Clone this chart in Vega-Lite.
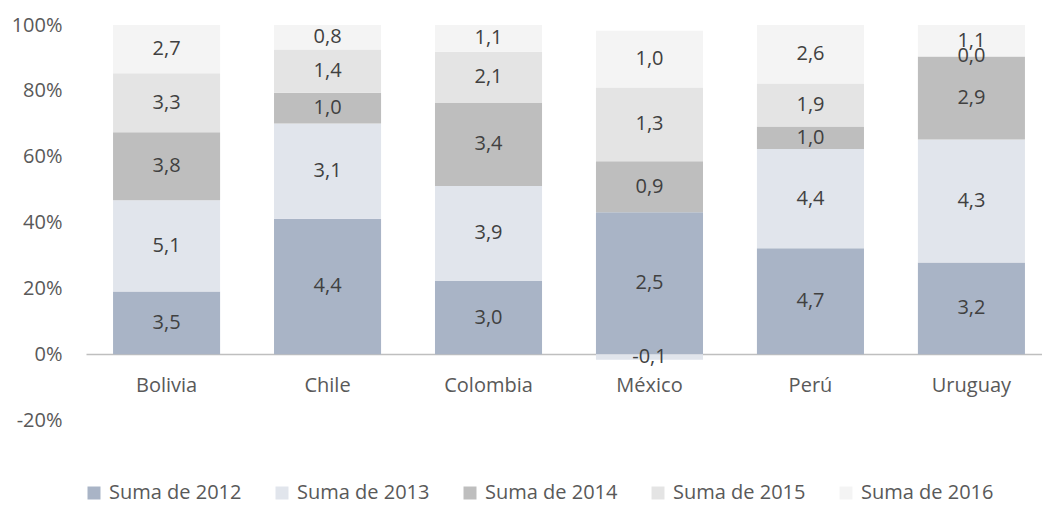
{
  "$schema": "https://vega.github.io/schema/vega-lite/v6.json",
  "width": 966,
  "height": 395,
  "autosize": {"type": "none"},
  "padding": {"left": 86, "top": 25, "right": 0, "bottom": 85},
  "background": "white",
  "config": {"view": {"stroke": null}, "font": "Open Sans"},
  "data": {
    "values": [
      {"pais": "Bolivia", "anio": 2012, "serie": "Suma de 2012", "value": 3.5},
      {"pais": "Bolivia", "anio": 2013, "serie": "Suma de 2013", "value": 5.1},
      {"pais": "Bolivia", "anio": 2014, "serie": "Suma de 2014", "value": 3.8},
      {"pais": "Bolivia", "anio": 2015, "serie": "Suma de 2015", "value": 3.3},
      {"pais": "Bolivia", "anio": 2016, "serie": "Suma de 2016", "value": 2.7},
      {"pais": "Chile", "anio": 2012, "serie": "Suma de 2012", "value": 4.4},
      {"pais": "Chile", "anio": 2013, "serie": "Suma de 2013", "value": 3.1},
      {"pais": "Chile", "anio": 2014, "serie": "Suma de 2014", "value": 1.0},
      {"pais": "Chile", "anio": 2015, "serie": "Suma de 2015", "value": 1.4},
      {"pais": "Chile", "anio": 2016, "serie": "Suma de 2016", "value": 0.8},
      {"pais": "Colombia", "anio": 2012, "serie": "Suma de 2012", "value": 3.0},
      {"pais": "Colombia", "anio": 2013, "serie": "Suma de 2013", "value": 3.9},
      {"pais": "Colombia", "anio": 2014, "serie": "Suma de 2014", "value": 3.4},
      {"pais": "Colombia", "anio": 2015, "serie": "Suma de 2015", "value": 2.1},
      {"pais": "Colombia", "anio": 2016, "serie": "Suma de 2016", "value": 1.1},
      {"pais": "México", "anio": 2012, "serie": "Suma de 2012", "value": 2.5},
      {"pais": "México", "anio": 2013, "serie": "Suma de 2013", "value": -0.1},
      {"pais": "México", "anio": 2014, "serie": "Suma de 2014", "value": 0.9},
      {"pais": "México", "anio": 2015, "serie": "Suma de 2015", "value": 1.3},
      {"pais": "México", "anio": 2016, "serie": "Suma de 2016", "value": 1.0},
      {"pais": "Perú", "anio": 2012, "serie": "Suma de 2012", "value": 4.7},
      {"pais": "Perú", "anio": 2013, "serie": "Suma de 2013", "value": 4.4},
      {"pais": "Perú", "anio": 2014, "serie": "Suma de 2014", "value": 1.0},
      {"pais": "Perú", "anio": 2015, "serie": "Suma de 2015", "value": 1.9},
      {"pais": "Perú", "anio": 2016, "serie": "Suma de 2016", "value": 2.6},
      {"pais": "Uruguay", "anio": 2012, "serie": "Suma de 2012", "value": 3.2},
      {"pais": "Uruguay", "anio": 2013, "serie": "Suma de 2013", "value": 4.3},
      {"pais": "Uruguay", "anio": 2014, "serie": "Suma de 2014", "value": 2.9},
      {"pais": "Uruguay", "anio": 2015, "serie": "Suma de 2015", "value": 0.0},
      {"pais": "Uruguay", "anio": 2016, "serie": "Suma de 2016", "value": 1.1}
    ]
  },
  "transform": [
    {"calculate": "abs(datum.value)", "as": "absval"},
    {"joinaggregate": [{"op": "sum", "field": "absval", "as": "total"}], "groupby": ["pais"]},
    {"calculate": "datum.value / datum.total", "as": "pct"},
    {"stack": "pct", "groupby": ["pais"], "sort": [{"field": "anio", "order": "ascending"}], "as": ["y0", "y1"]},
    {"calculate": "(datum.y0 + datum.y1) / 2", "as": "mid"},
    {"calculate": "replace(replace(format(datum.value, '.1f'), '.', ','), '\u2212', '-')", "as": "label"}
  ],
  "encoding": {
    "x": {
      "field": "pais",
      "type": "nominal",
      "sort": ["Bolivia", "Chile", "Colombia", "México", "Perú", "Uruguay"],
      "scale": {"paddingInner": 0.335, "paddingOuter": 0.168},
      "axis": {
        "title": null,
        "labelAngle": 0,
        "labelFontSize": 20,
        "labelFont": "Open Sans",
        "labelColor": "#595959",
        "labelPadding": 21,
        "ticks": false,
        "domainColor": "#BFBFBF",
        "domainWidth": 1.5,
        "offset": -66
      }
    }
  },
  "layer": [
    {
      "mark": {"type": "bar"},
      "encoding": {
        "y": {
          "field": "y0",
          "type": "quantitative",
          "scale": {"domain": [-0.2, 1], "nice": false, "zero": false},
          "axis": {
            "title": null,
            "values": [-0.2, 0, 0.2, 0.4, 0.6, 0.8, 1.0],
            "format": ".0%",
            "labelExpr": "replace(datum.label, '\u2212', '-')",
            "labelFontSize": 20,
            "labelFont": "Open Sans",
            "labelColor": "#595959",
            "labelPadding": 24,
            "ticks": false,
            "domain": false,
            "grid": false
          }
        },
        "y2": {"field": "y1"},
        "color": {
          "field": "serie",
          "type": "nominal",
          "scale": {
            "domain": ["Suma de 2012", "Suma de 2013", "Suma de 2014", "Suma de 2015", "Suma de 2016"],
            "range": ["#A9B4C6", "#E1E5EC", "#BEBEBE", "#E4E4E4", "#F4F4F4"]
          },
          "legend": {
            "title": null,
            "orient": "none",
            "legendX": -2,
            "legendY": 458,
            "direction": "horizontal",
            "columns": 5,
            "symbolType": "square",
            "symbolSize": 169,
            "symbolStrokeWidth": 0,
            "labelFontSize": 20,
            "labelFont": "Open Sans",
            "labelColor": "#595959",
            "labelOffset": 5,
            "columnPadding": 30,
            "padding": 0
          }
        }
      }
    },
    {
      "mark": {"type": "text", "fontSize": 20, "font": "Open Sans", "color": "#404040", "baseline": "middle"},
      "encoding": {
        "y": {"field": "mid", "type": "quantitative"},
        "text": {"field": "label"}
      }
    }
  ]
}
